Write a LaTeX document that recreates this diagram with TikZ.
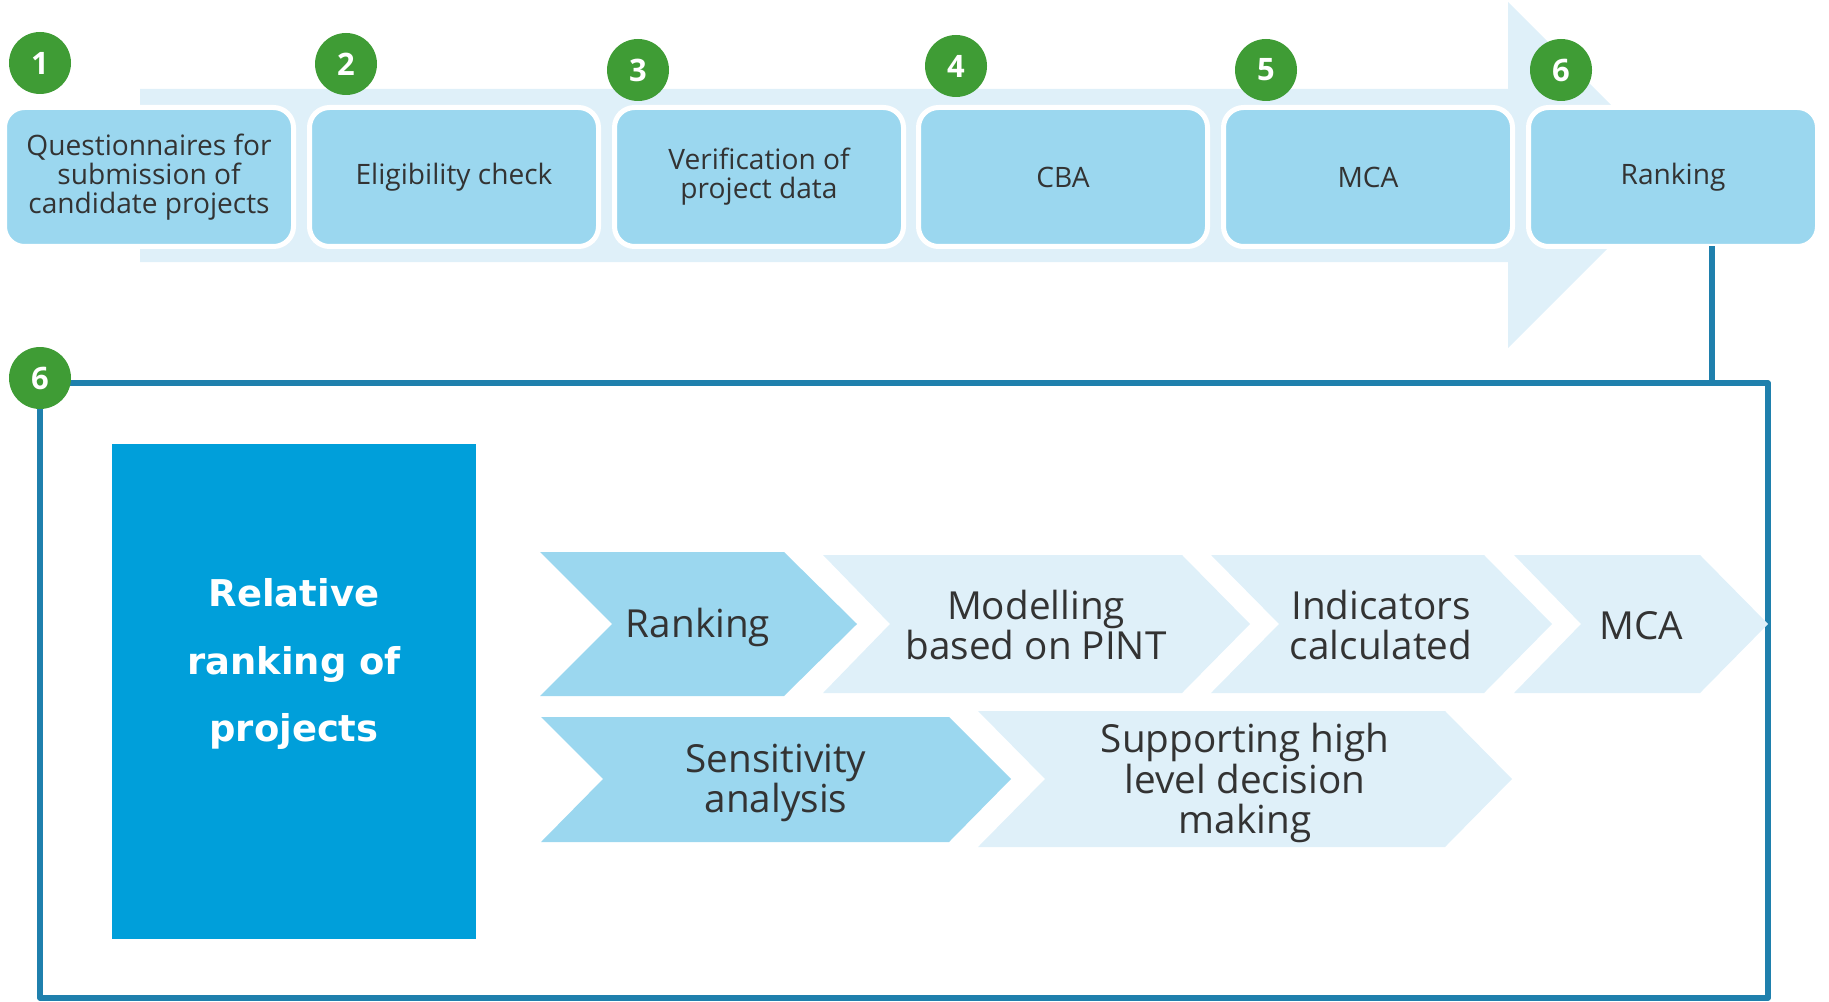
\documentclass[tikz,border=0pt]{standalone}
\usepackage{fontspec}
\setmainfont{Open Sans}
\newfontfamily\headfont{DejaVu Sans}
\usetikzlibrary{positioning}

\definecolor{badgegreen}{HTML}{3F9C35}
\definecolor{stepblue}{HTML}{9BD7EF}
\definecolor{paleblue}{HTML}{DFF0F9}
\definecolor{deepblue}{HTML}{009FDA}
\definecolor{framecol}{HTML}{1F80AD}
\definecolor{txtgray}{HTML}{333333}

\begin{document}
\begin{tikzpicture}[x=0.1mm, y=-0.1mm, line join=round,
    stepbox/.style={fill=stepblue, draw=white, line width=0.5mm, rounded corners=2mm,
        minimum width=28.9mm, minimum height=13.9mm, inner sep=0pt, align=center,
        text=txtgray, font=\fontsize{8}{8.25}\selectfont},
    badge/.style={circle, fill=badgegreen, minimum size=6.2mm, inner sep=0pt,
        text=white, font=\bfseries\fontsize{8.8}{8.8}\selectfont},
    chevtext/.style={align=center, text=txtgray, inner sep=0pt,
        font=\fontsize{11}{11.4}\selectfont},
    link/.style={draw=framecol, line width=0.55mm}]

    \useasboundingbox (0,0) rectangle (1829,1001);

    % big arrow behind the steps
    \fill[paleblue] (140,89) -- (1508,89) -- (1508,2) -- (1681,175)
        -- (1508,348) -- (1508,262) -- (140,262) -- cycle;

    % steps
    \node[stepbox] (quest) at (149,177) {Questionnaires for\\submission of\\candidate projects};
    \node[stepbox] (elig)  at (454,177) {Eligibility check};
    \node[stepbox] (verif) at (759,177) {Verification of\\project data};
    \node[stepbox] (cba)   at (1063,177) {CBA};
    \node[stepbox] (mca)   at (1368,177) {MCA};
    \node[stepbox] (rank)  at (1673,177) {Ranking};

    % numbers
    \node[badge] (b1) at (40,63) {1};
    \node[badge] (b2) at (346,64) {2};
    \node[badge] (b3) at (638,70) {3};
    \node[badge] (b4) at (956,66) {4};
    \node[badge] (b5) at (1266,70) {5};
    \node[badge] (b6) at (1561,70) {6};

    % detail panel
    \node[draw=framecol, line width=0.55mm, minimum width=172.8mm, minimum height=61.5mm,
        inner sep=0pt] (panel) at (904,690.5) {};
    \coordinate (drop) at (1712,246);
    \draw[link] (drop) -- (drop |- panel.north);
    \node[badge] (b6d) at (40,378) {6};

    \node[fill=deepblue, minimum width=36.4mm, minimum height=49.5mm, inner sep=0pt] (goal) at (294,691.5) {};
    \node[align=center, text=white, inner sep=0pt,
        font=\headfont\bfseries\fontsize{10.5}{19.1}\selectfont] (goaltxt) at (294,664)
        {Relative\\ranking of\\projects};

    % first row
    \fill[stepblue] (540,552) -- (784,552) -- (857,624) -- (784,696) -- (540,696) -- (612,624) -- cycle;
    \node[chevtext] (ranking) at (698,627) {Ranking};
    \fill[paleblue] (823,555) -- (1182,555) -- (1250,624) -- (1182,693) -- (823,693) -- (890,624) -- cycle;
    \node[chevtext] (model) at (1036,625) {Modelling\\based on PINT};
    \fill[paleblue] (1211,555) -- (1484,555) -- (1552,624) -- (1484,693) -- (1211,693) -- (1279,624) -- cycle;
    \node[chevtext] (indic) at (1381,625) {Indicators\\calculated};
    \fill[paleblue] (1514,555) -- (1700,555) -- (1768,624) -- (1700,693) -- (1514,693) -- (1581,624) -- cycle;
    \node[chevtext] (mcb) at (1641,626) {MCA};

    % second row
    \fill[stepblue] (541,717) -- (949,717) -- (1011,779) -- (949,842) -- (541,842) -- (603,779) -- cycle;
    \node[chevtext] (sens) at (776,783) {Sensitivity\\analysis};
    \fill[paleblue] (978,711) -- (1445,711) -- (1512,779) -- (1445,847) -- (978,847) -- (1045,779) -- cycle;
    \node[chevtext] (support) at (1245,783) {Supporting high\\level decision\\making};

\end{tikzpicture}
\end{document}
